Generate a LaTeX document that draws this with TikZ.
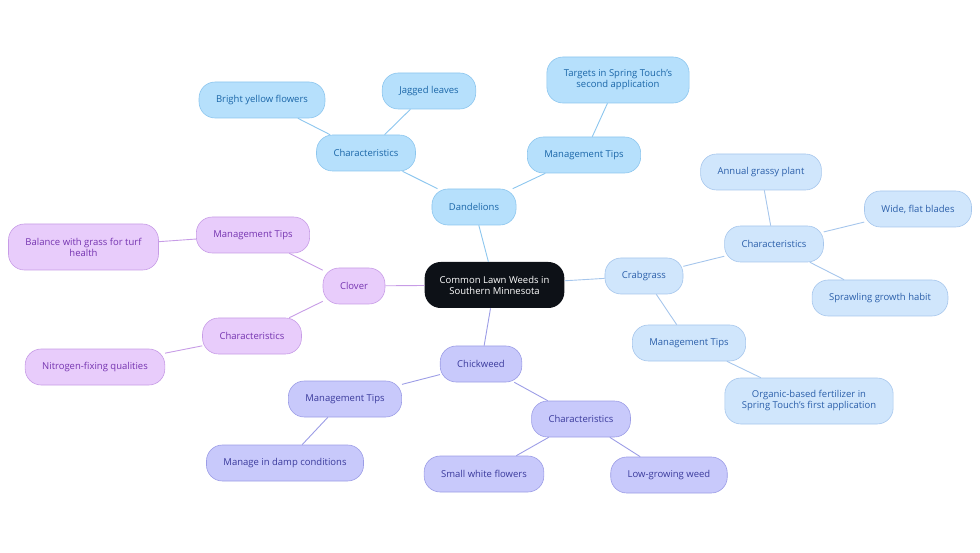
\documentclass[tikz,border=0pt]{standalone}
\usepackage{fontspec}
\setmainfont{Open Sans}
\definecolor{rootfill}{HTML}{0D1117}
\definecolor{dfill}{HTML}{B6E0FC}
\definecolor{ddraw}{HTML}{8CC6EE}
\definecolor{dtext}{HTML}{1A66A8}
\definecolor{cgfill}{HTML}{D0E6FC}
\definecolor{cgdraw}{HTML}{A6C6EC}
\definecolor{cgtext}{HTML}{2B5FAA}
\definecolor{clfill}{HTML}{E8CCFB}
\definecolor{cldraw}{HTML}{C79CE6}
\definecolor{cltext}{HTML}{7534B0}
\definecolor{chfill}{HTML}{C8C9FB}
\definecolor{chdraw}{HTML}{9C9DE6}
\definecolor{chtext}{HTML}{3A3A9C}
\begin{document}
\begin{tikzpicture}[x=1pt,y=-1pt,
        pill/.style={rounded corners=16pt, minimum height=36pt, inner xsep=17pt,
            align=center, font=\fontsize{9.5}{11}\selectfont, line width=0.6pt},
        dnode/.style={pill, draw=ddraw, fill=dfill, text=dtext},
        cgnode/.style={pill, draw=cgdraw, fill=cgfill, text=cgtext},
        clnode/.style={pill, draw=cldraw, fill=clfill, text=cltext},
        chnode/.style={pill, draw=chdraw, fill=chfill, text=chtext},
        dlink/.style={draw=ddraw, line width=0.9pt},
        cglink/.style={draw=cgdraw, line width=0.9pt},
        cllink/.style={draw=cldraw, line width=0.9pt},
        chlink/.style={draw=chdraw, line width=0.9pt}]
    \useasboundingbox (0,0) rectangle (980,553);

    \node[pill, fill=rootfill, text=white, minimum height=46pt, inner xsep=15pt] (root) at (494.5,285) {Common Lawn Weeds in\\Southern Minnesota};

    % Dandelions
    \node[dnode] (dand) at (474,207) {Dandelions};
    \node[dnode] (dchar) at (366,153) {Characteristics};
    \node[dnode] (dyel) at (262,100) {Bright yellow flowers};
    \node[dnode] (djag) at (429,91) {Jagged leaves};
    \node[dnode] (dman) at (584,155) {Management Tips};
    \node[dnode, minimum height=46pt] (dtarget) at (618,80) {Targets in Spring Touch's\\second application};

    % Crabgrass
    \node[cgnode] (crab) at (644,276) {Crabgrass};
    \node[cgnode] (cgchar) at (774,244) {Characteristics};
    \node[cgnode] (cgann) at (761,172) {Annual grassy plant};
    \node[cgnode] (cgwide) at (918,209) {Wide, flat blades};
    \node[cgnode] (cgsprawl) at (880,298) {Sprawling growth habit};
    \node[cgnode] (cgman) at (689,343) {Management Tips};
    \node[cgnode, minimum height=46pt] (cgorg) at (809,401) {Organic-based fertilizer in\\Spring Touch's first application};

    % Clover
    \node[clnode] (clov) at (354,286) {Clover};
    \node[clnode] (clman) at (253,235) {Management Tips};
    \node[clnode, minimum height=46pt] (clbal) at (83.5,247) {Balance with grass for turf\\health};
    \node[clnode] (clchar) at (252,336) {Characteristics};
    \node[clnode] (clnit) at (95,367) {Nitrogen-fixing qualities};

    % Chickweed
    \node[chnode] (chick) at (481,364) {Chickweed};
    \node[chnode] (chman) at (345,399) {Management Tips};
    \node[chnode] (chdamp) at (285,463) {Manage in damp conditions};
    \node[chnode] (chchar) at (581,419) {Characteristics};
    \node[chnode] (chsmall) at (484,474) {Small white flowers};
    \node[chnode] (chlow) at (669,475) {Low-growing weed};

    \path[dlink] (root) -- (dand);
    \path[dlink] (dand) -- (dchar);
    \path[dlink] (dchar) -- (dyel);
    \path[dlink] (dchar) -- (djag);
    \path[dlink] (dand) -- (dman);
    \path[dlink] (dman) -- (dtarget);

    \path[cglink] (root) -- (crab);
    \path[cglink] (crab) -- (cgchar);
    \path[cglink] (cgchar) -- (cgann);
    \path[cglink] (cgchar) -- (cgwide);
    \path[cglink] (cgchar) -- (cgsprawl);
    \path[cglink] (crab) -- (cgman);
    \path[cglink] (cgman) -- (cgorg);

    \path[cllink] (root) -- (clov);
    \path[cllink] (clov) -- (clman);
    \path[cllink] (clman) -- (clbal);
    \path[cllink] (clov) -- (clchar);
    \path[cllink] (clchar) -- (clnit);

    \path[chlink] (root) -- (chick);
    \path[chlink] (chick) -- (chman);
    \path[chlink] (chman) -- (chdamp);
    \path[chlink] (chick) -- (chchar);
    \path[chlink] (chchar) -- (chsmall);
    \path[chlink] (chchar) -- (chlow);
\end{tikzpicture}
\end{document}
